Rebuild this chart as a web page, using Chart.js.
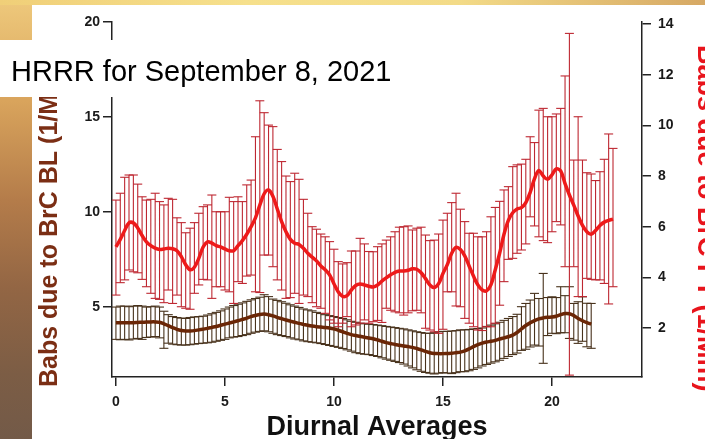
<!DOCTYPE html>
<html>
<head>
<meta charset="utf-8">
<script src="https://cdn.jsdelivr.net/npm/chart.js@4.4.0/dist/chart.umd.min.js"></script>
<style>
  html, body { margin: 0; padding: 0; background: #ffffff; }
  #wrap { position: relative; width: 705px; height: 439px; overflow: hidden; background: #ffffff; }
  #topband { position: absolute; left: 0; top: 0; width: 705px; height: 5px;
    background: linear-gradient(to right, #f0cf78 0%, #f6e08c 35%, #f3db88 65%, #d6a864 100%); }
  #sideband { position: absolute; left: 0; top: 5px; width: 32px; height: 434px;
    background: linear-gradient(to bottom, #edc77a 0%, #d9a45c 22%, #b47c4a 45%, #936644 65%, #7c5d45 85%, #735a48 100%); }
  canvas { position: absolute; left: 0; top: 0; }
</style>
</head>
<body>
<div id="wrap">
  <div id="topband"></div>
  <div id="sideband"></div>
  <canvas id="chart" width="705" height="439"></canvas>
</div>
<script>
// Hour of day for each averaged bin
const hours = [0,0.2,0.4,0.6,0.8,1,1.2,1.4,1.6,1.8,2,2.2,2.4,2.6,2.8,3,3.2,3.4,3.6,3.8,
  4,4.2,4.4,4.6,4.8,5,5.2,5.4,5.6,5.8,6,6.2,6.4,6.6,6.8,7,7.2,7.4,7.6,7.8,
  8,8.2,8.4,8.6,8.8,9,9.2,9.4,9.6,9.8,10,10.2,10.4,10.6,10.8,11,11.2,11.4,11.6,11.8,
  12,12.2,12.4,12.6,12.8,13,13.2,13.4,13.6,13.8,14,14.2,14.4,14.6,14.8,15,15.2,15.4,15.6,15.8,
  16,16.2,16.4,16.6,16.8,17,17.2,17.4,17.6,17.8,18,18.2,18.4,18.6,18.8,19,19.2,19.4,19.6,19.8,
  20,20.2,20.4,20.6,20.8,21,21.2,21.4,21.6,21.8,22,22.2,22.4,22.6,22.8];

// Free troposphere (right axis): smoothed mean and error-bar limits
const ftMean = [5.2,5.5,5.85,6.15,6.15,5.95,5.65,5.4,5.25,5.15,5.1,5.12,5.15,5.13,5.05,4.82,4.5,4.3,4.4,4.75,
  5.2,5.4,5.35,5.25,5.2,5.12,5.05,5.05,5.25,5.45,5.7,6.0,6.35,6.85,7.3,7.45,7.2,6.7,6.2,5.8,
  5.5,5.35,5.3,5.15,4.95,4.8,4.65,4.45,4.3,4.1,3.75,3.42,3.25,3.28,3.5,3.68,3.74,3.7,3.65,3.62,
  3.7,3.85,3.98,4.1,4.2,4.25,4.25,4.28,4.34,4.32,4.18,3.95,3.7,3.6,3.75,4.15,4.5,4.95,5.18,5.1,
  4.85,4.45,4.05,3.7,3.5,3.47,3.7,4.3,4.95,5.7,6.25,6.55,6.7,6.75,6.95,7.35,7.9,8.22,8.0,7.87,
  8.05,8.28,8.2,7.7,7.25,6.85,6.42,6.05,5.8,5.7,5.85,6.05,6.18,6.25,6.3];
const ftUpper = [7.05,7.32,7.95,8.04,8.04,7.68,7.18,7.05,7.08,7.32,6.99,6.86,7.12,7.08,6.35,6.16,5.76,5.94,6.16,6.53,
  6.79,6.86,7.25,6.59,6.59,6.59,7.16,6.99,7.18,6.99,7.65,7.84,9.55,10.97,10.5,10.01,9.95,9.05,8.57,8.0,
  7.78,8.11,7.87,7.08,6.53,6.0,5.9,5.71,5.6,5.41,5.11,4.62,4.53,4.58,5.04,5.04,5.54,5.32,5.02,5.01,
  5.21,5.32,5.47,5.6,5.8,5.98,6.0,6.03,5.87,5.94,5.98,5.67,5.45,5.47,5.71,6.26,6.53,6.95,7.32,6.69,
  6.2,5.74,5.74,5.6,5.6,5.8,6.39,6.76,7.0,7.45,7.58,8.37,8.44,8.47,8.66,9.55,9.32,10.6,10.67,10.34,
  10.34,10.45,10.67,11.95,13.63,8.63,10.34,8.63,8.13,8.08,7.82,8.17,8.66,9.66,9.09];
const ftLower = [3.3,3.79,3.9,4.29,4.22,4.18,3.92,3.63,3.37,3.17,3.13,3.0,3.5,2.97,3.3,2.84,2.78,2.74,3.37,3.7,
  3.92,3.9,3.17,3.63,3.63,3.5,3.43,2.97,3.83,3.76,4.05,4.09,3.43,3.4,4.88,4.88,4.42,3.9,3.5,3.17,
  3.2,3.37,2.97,3.3,3.24,3.0,2.84,2.78,2.58,2.32,2.19,2.05,2.19,2.45,2.05,2.12,2.19,2.32,2.19,2.25,
  2.3,2.22,2.78,2.7,2.64,2.6,2.51,2.6,2.68,2.7,2.6,1.99,1.92,1.85,1.79,1.95,3.43,3.43,2.87,2.84,
  2.38,2.19,2.05,1.92,1.9,2.05,2.05,2.19,2.9,3.83,4.71,4.75,4.95,5.08,5.32,6.39,6.03,5.6,5.45,5.37,
  5.8,6.2,6.07,4.42,0.14,4.42,3.24,3.24,3.96,3.92,3.9,3.9,3.76,2.95,3.63];

// Boundary layer (left axis): smoothed mean and error-bar limits
const blMean = [4.18,4.18,4.18,4.18,4.18,4.19,4.2,4.21,4.22,4.22,4.2,4.12,4.02,3.92,3.83,3.77,3.74,3.74,3.76,3.8,
  3.84,3.88,3.93,3.98,4.04,4.1,4.16,4.22,4.28,4.35,4.42,4.5,4.56,4.61,4.63,4.6,4.54,4.46,4.39,4.32,
  4.26,4.2,4.14,4.09,4.04,4.0,3.97,3.95,3.93,3.9,3.85,3.78,3.7,3.62,3.55,3.5,3.46,3.41,3.37,3.33,
  3.27,3.2,3.13,3.08,3.03,2.99,2.95,2.92,2.88,2.82,2.75,2.67,2.6,2.56,2.55,2.55,2.56,2.57,2.6,2.63,
  2.7,2.8,2.92,3.02,3.1,3.16,3.2,3.25,3.32,3.38,3.44,3.52,3.66,3.85,4.03,4.17,4.29,4.38,4.43,4.46,
  4.48,4.52,4.6,4.66,4.65,4.55,4.4,4.28,4.18,4.1];
const blUpper = [5.0,5.05,5.05,5.02,5.05,5.08,5.05,5.0,5.02,5.05,5.0,4.78,4.6,4.5,4.45,4.42,4.4,4.45,4.48,4.5,
  4.52,4.58,4.65,4.72,4.8,4.9,5.0,5.08,5.15,5.22,5.3,5.38,5.45,5.52,5.65,5.55,5.42,5.35,5.28,5.2,
  5.12,5.05,4.98,4.9,4.85,4.8,4.72,4.66,4.6,4.55,4.5,4.45,4.4,4.33,4.25,4.2,4.15,4.12,4.1,4.08,
  4.05,4.02,3.98,3.95,3.92,3.88,3.85,3.8,3.75,3.7,3.66,3.62,3.62,3.65,3.7,3.72,3.72,3.74,3.76,3.8,
  3.8,3.82,3.85,3.87,3.9,3.98,4.05,4.12,4.2,4.3,4.4,4.5,4.62,5.02,5.19,5.37,5.72,5.45,6.77,5.5,
  5.54,5.5,6.07,5.6,6.07,5.19,5.28,5.54,5.2,5.19];
const blLower = [3.3,3.28,3.3,3.27,3.32,3.35,3.3,3.4,3.42,3.45,3.38,2.83,3.1,3.05,3.02,3.0,3.0,3.02,3.05,3.08,
  3.1,3.12,3.15,3.2,3.25,3.3,3.38,3.42,3.45,3.5,3.55,3.62,3.68,3.72,3.75,3.7,3.62,3.55,3.5,3.45,
  3.38,3.32,3.28,3.22,3.18,3.15,3.12,3.08,3.03,2.98,2.93,2.88,2.82,2.75,2.68,2.6,2.55,2.52,2.5,2.45,
  2.4,2.33,2.26,2.2,2.14,2.08,2.0,1.9,1.8,1.7,1.62,1.56,1.52,1.48,1.52,1.55,1.53,1.5,1.55,1.6,
  1.6,1.65,1.72,1.8,1.9,1.98,2.05,2.12,2.2,2.3,2.4,2.5,2.58,2.72,2.78,2.9,3.0,2.95,2.04,3.5,
  3.62,3.6,3.65,3.65,3.35,3.26,3.09,3.2,2.91,2.83];

const hourTicks = [0, 5, 10, 15, 20];
const leftTicks = [5, 10, 15, 20];
const rightTicks = [2, 4, 6, 8, 10, 12, 14];

const chartTitle = 'HRRR for September 8, 2021';
const xTitle = 'Diurnal Averages';
const leftTitle = 'Babs due to BrC BL (1/Mm)';
const rightTitle = 'Babs due to BrC FT (1/Mm)';

const FONT = '"Liberation Sans", Arial, Helvetica, sans-serif';

// Vertical stems: low/high pairs separated by gaps
function stems(xs, lo, hi) {
  const pts = [];
  for (let i = 0; i < lo.length; i++) {
    pts.push({ x: xs[i], y: lo[i] }, { x: xs[i], y: hi[i] }, { x: xs[i], y: null });
  }
  return pts;
}
// Horizontal caps at both ends of each bar
function caps(xs, lo, hi) {
  const pts = [];
  for (let i = 0; i < lo.length; i++) {
    pts.push({ x: xs[i], y: lo[i] }, { x: xs[i], y: hi[i] });
  }
  return pts;
}
function series(xs, ys) {
  return ys.map((v, i) => ({ x: xs[i], y: v }));
}

const RED = '#ee1a1a';
const RED_BAR = 'rgb(190,40,50)';
const BROWN = '#6a2606';
const BROWN_BAR = 'rgb(72,50,28)';

// Axis captions and the heading panel
const captions = {
  id: 'captions',
  afterDraw(chart) {
    const { ctx, chartArea } = chart;
    ctx.save();
    ctx.textBaseline = 'middle';
    ctx.textAlign = 'left';

    ctx.save();
    ctx.font = 'bold 25px ' + FONT;
    ctx.fillStyle = '#7b2e14';
    ctx.translate(50, chartArea.bottom + 10);
    ctx.rotate(-Math.PI / 2);
    ctx.fillText(leftTitle, 0, 0);
    ctx.restore();

    ctx.save();
    ctx.font = 'bold 27px ' + FONT;
    ctx.fillStyle = '#e8141c';
    ctx.translate(705, chartArea.top + 23);
    ctx.rotate(Math.PI / 2);
    ctx.fillText(rightTitle, 0, 0);
    ctx.restore();

    ctx.fillStyle = '#ffffff';
    ctx.fillRect(0, 40, 400, 57);
    ctx.fillStyle = '#000000';
    ctx.font = '29px ' + FONT;
    ctx.textBaseline = 'alphabetic';
    ctx.fillText(chartTitle, 11, 81);
    ctx.restore();
  }
};

const axisCommon = {
  grid: { display: true, drawOnChartArea: false, drawTicks: true, tickLength: 9, color: '#222', lineWidth: 1.5 },
  border: { display: true, color: '#222', width: 1.5 }
};

new Chart(document.getElementById('chart'), {
  type: 'line',
  data: {
    datasets: [
      { label: 'FT mean', data: series(hours, ftMean), yAxisID: 'yR', borderColor: RED, borderWidth: 3.5,
        pointRadius: 0, tension: 0.35, fill: false, order: 0 },
      { label: 'BL mean', data: series(hours, blMean), yAxisID: 'yL', borderColor: BROWN, borderWidth: 3.5,
        pointRadius: 0, tension: 0.35, fill: false, order: 1 },
      { label: 'FT range', data: stems(hours, ftLower, ftUpper), yAxisID: 'yR', borderColor: RED_BAR, borderWidth: 1.1,
        pointRadius: 0, spanGaps: false, tension: 0, order: 2 },
      { label: 'FT caps', type: 'scatter', data: caps(hours, ftLower, ftUpper), yAxisID: 'yR', showLine: false,
        pointStyle: 'line', pointRadius: 4.5, pointBorderWidth: 1.1, pointBorderColor: RED_BAR, borderColor: RED_BAR, order: 2 },
      { label: 'BL range', data: stems(hours, blLower, blUpper), yAxisID: 'yL', borderColor: BROWN_BAR, borderWidth: 1.1,
        pointRadius: 0, spanGaps: false, tension: 0, order: 3 },
      { label: 'BL caps', type: 'scatter', data: caps(hours, blLower, blUpper), yAxisID: 'yL', showLine: false,
        pointStyle: 'line', pointRadius: 4.5, pointBorderWidth: 1.1, pointBorderColor: BROWN_BAR, borderColor: BROWN_BAR, order: 3 }
    ]
  },
  options: {
    responsive: false,
    animation: false,
    events: [],
    layout: { padding: { top: 22, left: 0, right: 0, bottom: 0 } },
    plugins: { legend: { display: false }, tooltip: { enabled: false }, title: { display: false } },
    scales: {
      x: {
        type: 'linear', position: 'bottom', min: -0.18, max: 24.13,
        afterBuildTicks: s => { s.ticks = hourTicks.map(v => ({ value: v })); },
        afterFit: s => { s.height = 62; },
        ...axisCommon,
        ticks: { font: { family: FONT, size: 14, weight: 'bold' }, color: '#1a1a1a', padding: 8, maxRotation: 0, autoSkip: false },
        title: { display: true, text: xTitle, color: '#111', font: { family: FONT, size: 27, weight: 'bold' }, padding: { top: 0, bottom: -5 } }
      },
      yL: {
        type: 'linear', position: 'left', min: 1.32, max: 20,
        afterBuildTicks: s => { s.ticks = leftTicks.map(v => ({ value: v })); },
        afterFit: s => { s.width = 112; },
        ...axisCommon,
        ticks: { font: { family: FONT, size: 14, weight: 'bold' }, color: '#1a1a1a', padding: 3 }
      },
      yR: {
        type: 'linear', position: 'right', min: 0.066, max: 14.08,
        afterBuildTicks: s => { s.ticks = rightTicks.map(v => ({ value: v })); },
        afterFit: s => { s.width = 63; },
        ...axisCommon,
        ticks: { font: { family: FONT, size: 14, weight: 'bold' }, color: '#1a1a1a', padding: 7 }
      }
    }
  },
  plugins: [captions]
});
</script>
</body>
</html>
